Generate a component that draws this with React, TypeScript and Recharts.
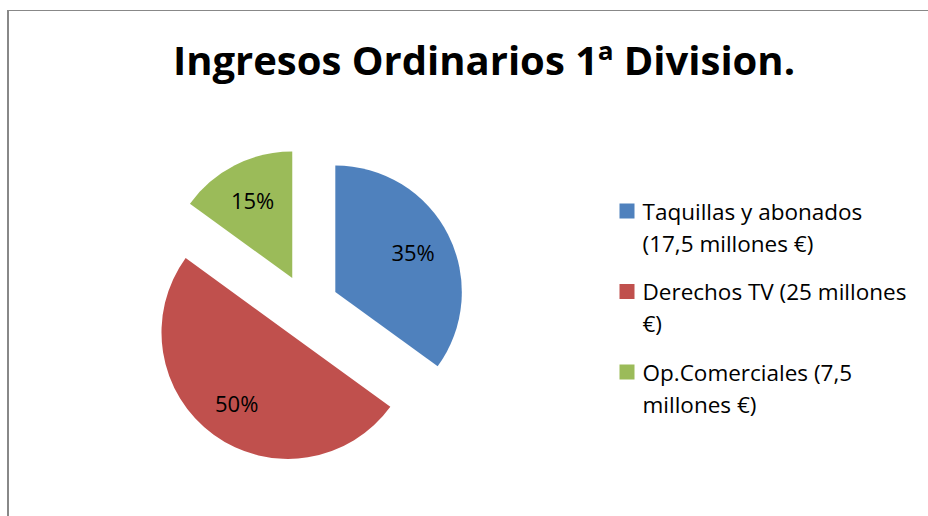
import { Cell, Pie, PieChart } from "recharts";

const categories = [
	"Taquillas y abonados (17,5 millones €)",
	"Derechos TV (25 millones €)",
	"Op.Comerciales (7,5 millones €)",
];
const values = [17.5, 25, 7.5];
const colors = ["#4F81BD", "#C0504D", "#9BBB59"];
const title = "Ingresos Ordinarios 1ª Division.";

const W = 928;
const H = 516;
const CX = 306.8;
const CY = 306.5;
const R = 126.5;
const EXPLODE = 32;
const FONT = "'Open Sans', 'Liberation Sans', sans-serif";
const RAD = Math.PI / 180;
// words on the first legend line (the original wraps these labels)
const WRAP_AFTER = [3, 4, 2];
const LEG_X = 619.5;
const LEG_Y = 219.5;
const LINE_H = 32;
const GROUP_GAP = 16.5;

const data = categories.map((name, i) => ({ name, value: values[i] }));

// slice offsets, clockwise from 12 o'clock like the original
const total = values.reduce((a, b) => a + b, 0);
let acc = 0;
const offsets = values.map((v) => {
	const theta = ((acc + v / 2) / total) * 360 * RAD;
	acc += v;
	return { dx: EXPLODE * Math.sin(theta), dy: -EXPLODE * Math.cos(theta) };
});

function pctLabel(p: any) {
	const r = p.outerRadius * 0.69;
	const x = p.cx + r * Math.cos(-p.midAngle * RAD);
	const y = p.cy + r * Math.sin(-p.midAngle * RAD);
	return (
		<text
			x={x}
			y={y}
			textAnchor="middle"
			dominantBaseline="central"
			fontFamily={FONT}
			fontSize={22}
			fill="#000"
		>
			{`${Math.round(p.percent * 100)}%`}
		</text>
	);
}

function Overlay() {
	return (
		<svg
			width={W}
			height={H}
			style={{ position: "absolute", left: 0, top: 0, display: "block" }}
		>
			<line x1={7} y1={10.5} x2={W} y2={10.5} stroke="#888" strokeWidth={1} />
			<line x1={8} y1={10} x2={8} y2={H} stroke="#888" strokeWidth={2} />
			<text
				x={484}
				y={75}
				textAnchor="middle"
				fontFamily={FONT}
				fontWeight={700}
				fontSize={40}
				fill="#000"
			>
				{title}
			</text>
			{categories.map((c, i) => {
				const words = c.split(" ");
				const y0 = LEG_Y + i * (2 * LINE_H + GROUP_GAP);
				return (
					<g key={c}>
						<rect x={LEG_X} y={y0 - 16} width={15} height={15} fill={colors[i]} />
						<text x={LEG_X + 23} y={y0} fontFamily={FONT} fontSize={22.5} fill="#000">
							<tspan x={LEG_X + 23} y={y0}>
								{words.slice(0, WRAP_AFTER[i]).join(" ")}
							</tspan>
							<tspan x={LEG_X + 23} y={y0 + LINE_H}>
								{words.slice(WRAP_AFTER[i]).join(" ")}
							</tspan>
						</text>
					</g>
				);
			})}
		</svg>
	);
}

export default function App() {
	return (
		<div
			style={{
				position: "absolute",
				left: 0,
				top: 0,
				width: W,
				height: H,
				overflow: "hidden",
				background: "#fff",
			}}
		>
			<div style={{ position: "absolute", left: 0, top: 0 }}>
				<PieChart width={620} height={H} margin={{ top: 0, right: 0, bottom: 0, left: 0 }}>
					{offsets.map((o, k) => (
						<Pie
							key={k}
							data={data}
							dataKey="value"
							nameKey="name"
							cx={CX + o.dx}
							cy={CY + o.dy}
							outerRadius={R}
							startAngle={90}
							endAngle={-270}
							stroke="none"
							labelLine={false}
							label={(p: any) => (p.index === k ? pctLabel(p) : null)}
							isAnimationActive={false}
						>
							{data.map((d, i) => (
								<Cell key={d.name} fill={i === k ? colors[i] : "none"} />
							))}
						</Pie>
					))}
				</PieChart>
			</div>
			<Overlay />
		</div>
	);
}
